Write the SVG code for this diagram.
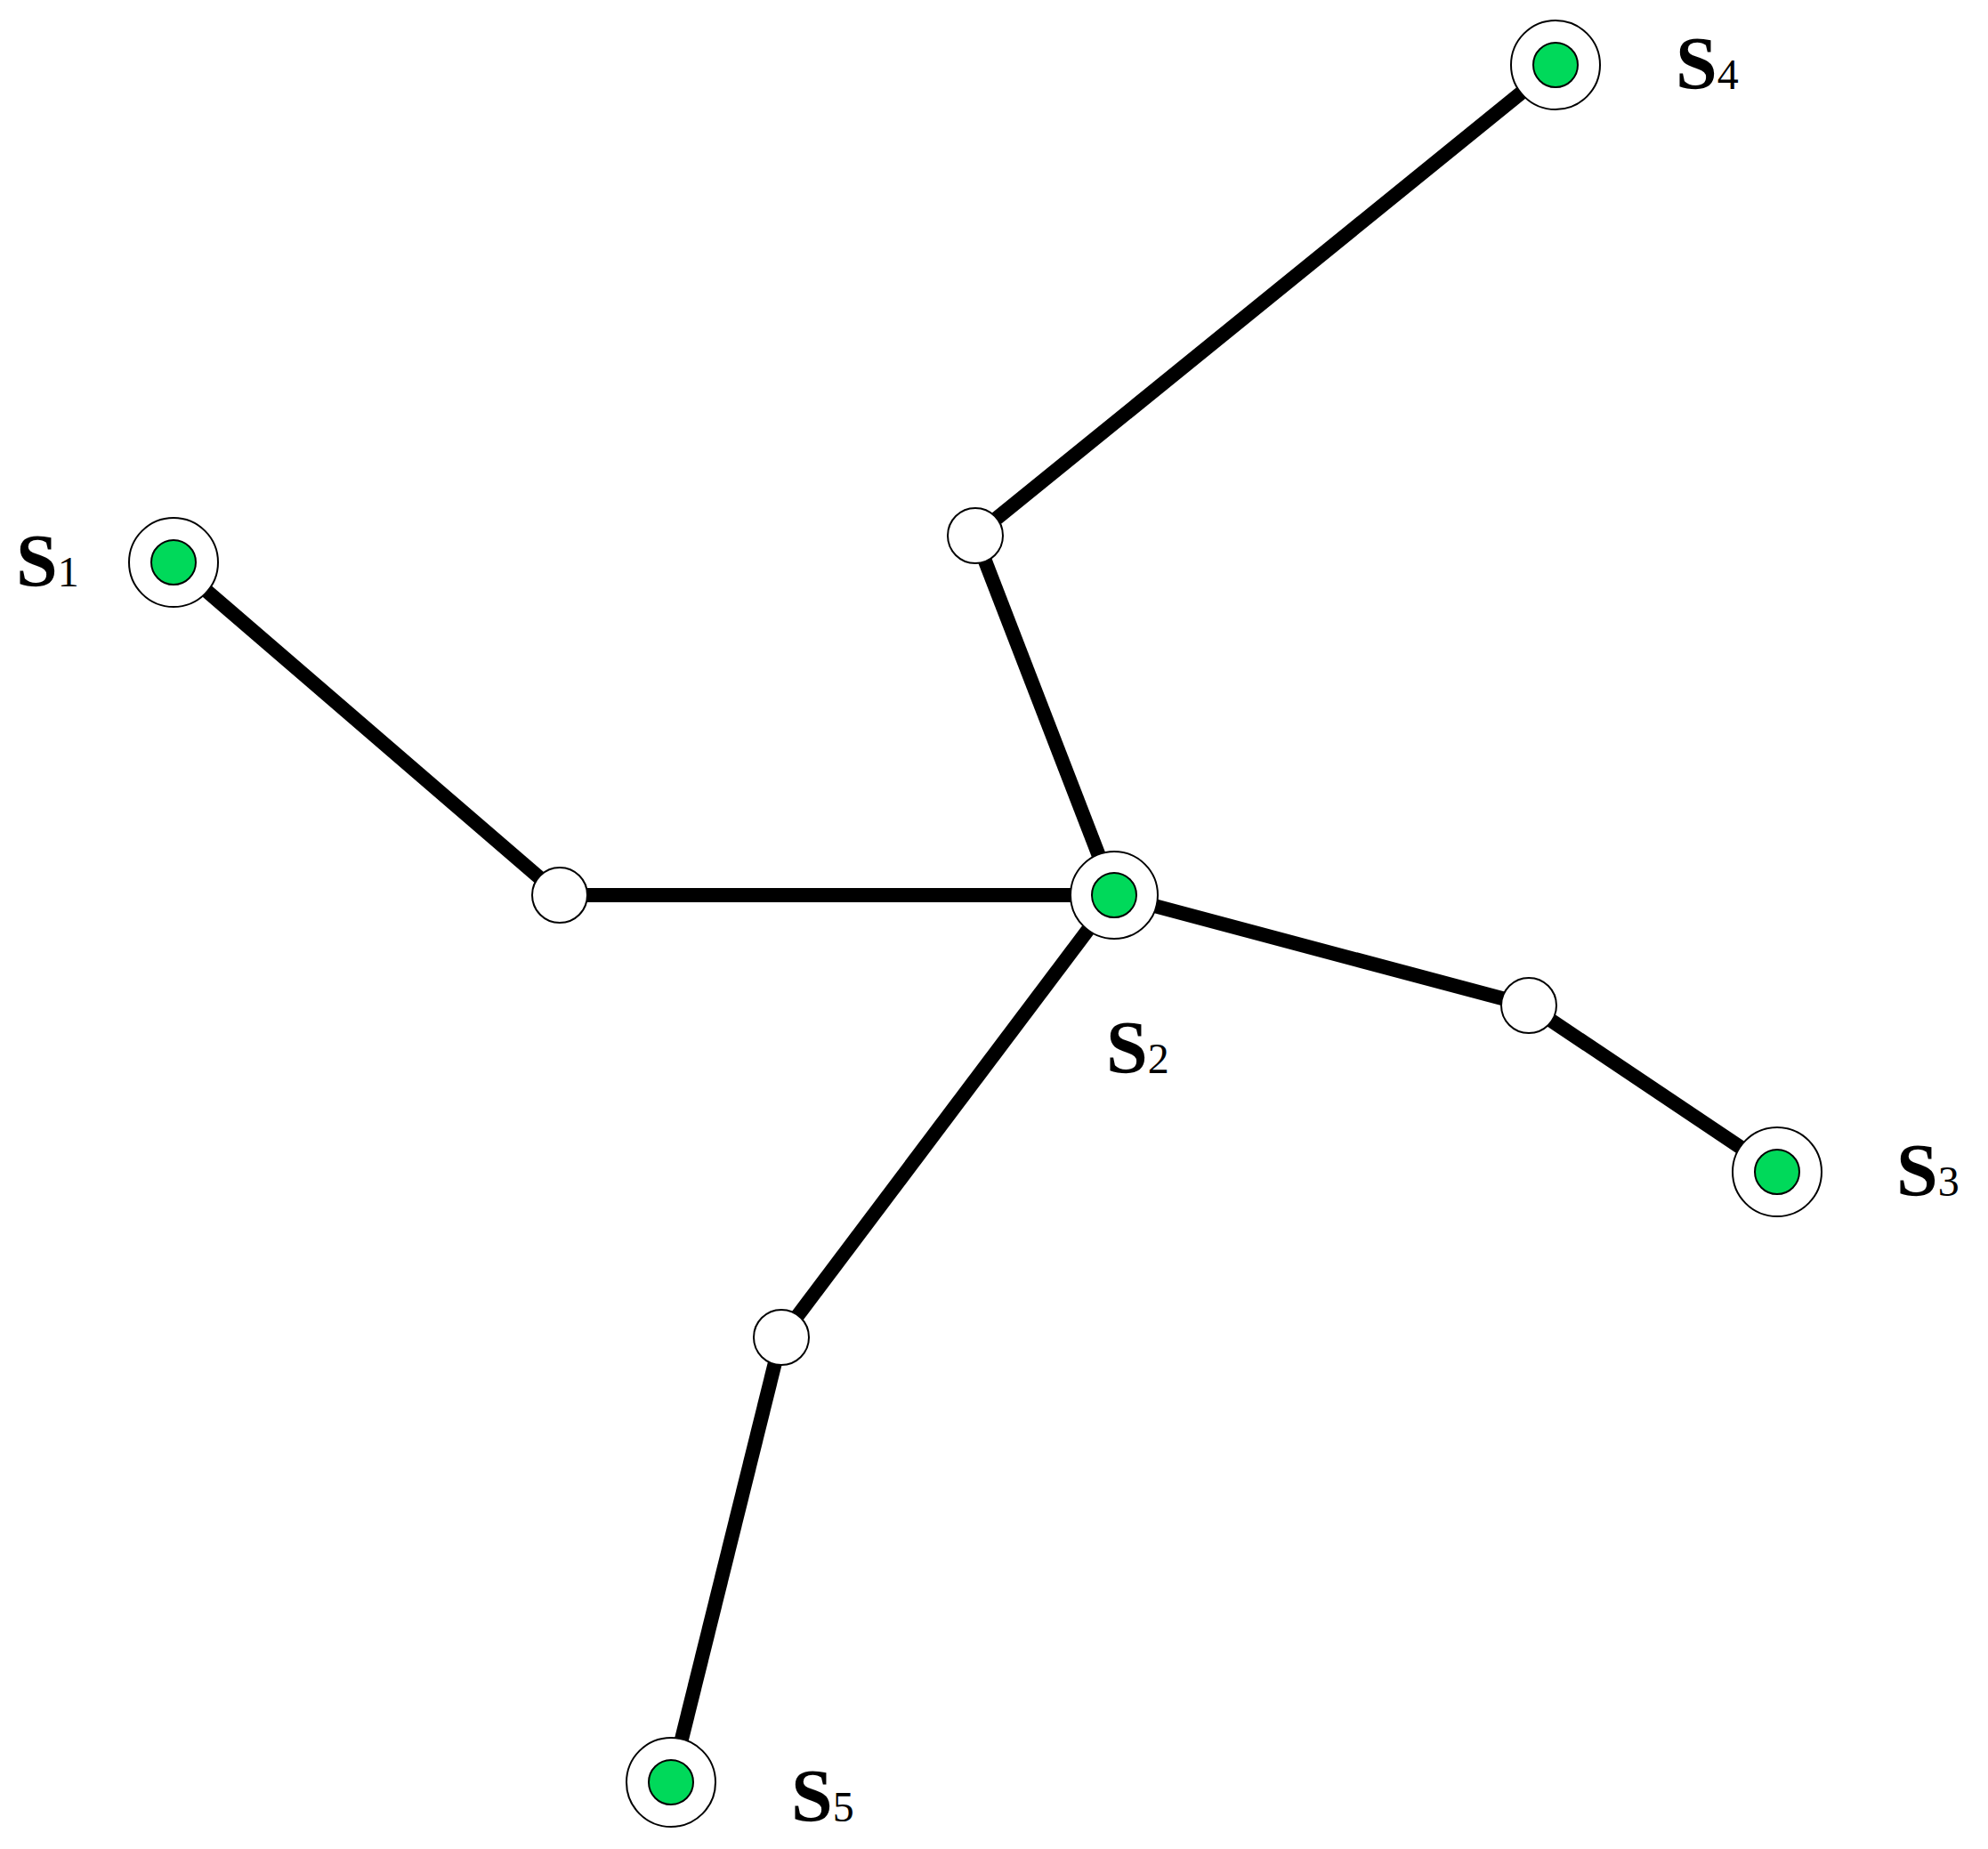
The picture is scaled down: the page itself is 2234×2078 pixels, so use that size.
<svg xmlns="http://www.w3.org/2000/svg" width="2234" height="2078" viewBox="0 0 2234 2078">
<style>
.edge{stroke:#000;stroke-width:16;fill:none}
.outer{fill:#fff;stroke:#000;stroke-width:2}
.inner{fill:#00d95a;stroke:#000;stroke-width:2}
.steiner{fill:#fff;stroke:#000;stroke-width:2}
.lbl{font-family:"Liberation Serif","DejaVu Serif",serif;font-size:84px;font-weight:bold;fill:#000}
.sub{font-size:48px;font-weight:normal}
</style>
<rect width="2234" height="2078" fill="#fff"/>
<g id="connectors">
<line class="edge" x1="195" y1="632" x2="629" y2="1006"/>
<line class="edge" x1="629" y1="1006" x2="1252" y2="1006"/>
<line class="edge" x1="1252" y1="1006" x2="1096" y2="602"/>
<line class="edge" x1="1096" y1="602" x2="1748" y2="73"/>
<line class="edge" x1="1252" y1="1006" x2="1718" y2="1130"/>
<line class="edge" x1="1718" y1="1130" x2="1997" y2="1317"/>
<line class="edge" x1="1252" y1="1006" x2="878" y2="1503"/>
<line class="edge" x1="878" y1="1503" x2="754" y2="2003"/>
</g>
<g id="S1"><circle class="outer" cx="195" cy="632" r="50"/><circle class="inner" cx="195" cy="632" r="25"/><text class="lbl" x="18" y="659">S<tspan class="sub">1</tspan></text></g>
<g id="S2"><circle class="outer" cx="1252" cy="1006" r="49"/><circle class="inner" cx="1252" cy="1006" r="25"/><text class="lbl" x="1243" y="1206">S<tspan class="sub">2</tspan></text></g>
<g id="S3"><circle class="outer" cx="1997" cy="1317" r="50"/><circle class="inner" cx="1997" cy="1317" r="25"/><text class="lbl" x="2131" y="1344">S<tspan class="sub">3</tspan></text></g>
<g id="S4"><circle class="outer" cx="1748" cy="73" r="50"/><circle class="inner" cx="1748" cy="73" r="25"/><text class="lbl" x="1883" y="100">S<tspan class="sub">4</tspan></text></g>
<g id="S5"><circle class="outer" cx="754" cy="2003" r="50"/><circle class="inner" cx="754" cy="2003" r="25"/><text class="lbl" x="889" y="2047">S<tspan class="sub">5</tspan></text></g>
<g id="P1"><circle class="steiner" cx="629" cy="1006" r="31"/></g>
<g id="P2"><circle class="steiner" cx="1096" cy="602" r="31"/></g>
<g id="P3"><circle class="steiner" cx="1718" cy="1130" r="31"/></g>
<g id="P4"><circle class="steiner" cx="878" cy="1503" r="31"/></g>
</svg>
